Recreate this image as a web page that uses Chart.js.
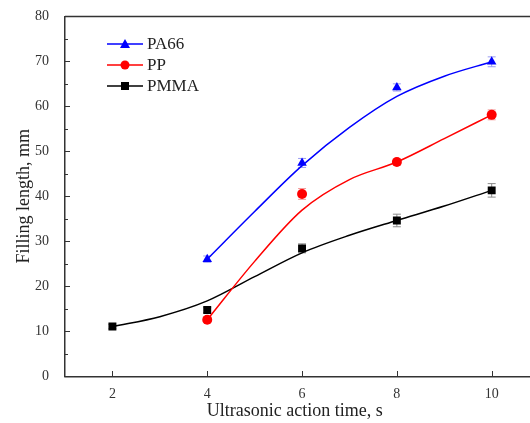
<!DOCTYPE html>
<html>
<head>
<meta charset="utf-8">
<script src="https://cdn.jsdelivr.net/npm/chart.js@4"></script>
<style>
html, body { margin: 0; padding: 0; background: #fff; overflow: hidden; }
</style>
</head>
<body>
<canvas id="myChart" width="530" height="423"></canvas>
<script>
// measured points (time, s -> filling length, mm) and error bars
const pa66Time = [4, 6, 8, 10];
const pa66Len = [26.0, 47.4, 64.2, 69.9];
const pa66Err = [0.7, 1.0, 0.8, 1.1];

const ppTime = [4, 6, 8, 10];
const ppLen = [12.5, 40.5, 47.6, 58.1];
const ppErr = [0.6, 1.2, 0.7, 1.1];

const pmmaTime = [2, 4, 6, 8, 10];
const pmmaLen = [11.0, 14.7, 28.4, 34.6, 41.3];
const pmmaErr = [0.5, 0.6, 1.0, 1.4, 1.5];

// fitted curves
const pa66FitTime = [4, 5, 6, 7, 8, 9, 10];
const pa66Fit = [26.0, 36.6, 46.8, 55.3, 62.2, 66.7, 69.9];
const ppFitTime = [4, 5, 6, 7, 8, 9, 10];
const ppFit = [12.5, 25.5, 36.9, 43.7, 47.6, 52.8, 58.1];
const pmmaFitTime = [2, 3, 4, 5, 6, 7, 8, 9, 10];
const pmmaFit = [11.0, 13.2, 16.7, 22.1, 27.4, 31.3, 34.6, 37.8, 41.3];

const xTicks = [2, 4, 6, 8, 10];
const yTicks = [0, 10, 20, 30, 40, 50, 60, 70, 80];

const series = [
    { label: 'PA66', color: '#0000ff', errColor: '#9a9cf2', shape: 'triangle', radius: 5.5, t: pa66Time, v: pa66Len, e: pa66Err, ft: pa66FitTime, fv: pa66Fit },
    { label: 'PP', color: '#ff0000', errColor: '#f29a9a', shape: 'circle', radius: 5, t: ppTime, v: ppLen, e: ppErr, ft: ppFitTime, fv: ppFit },
    { label: 'PMMA', color: '#000000', errColor: '#8a8a8a', shape: 'rect', radius: 5.6, t: pmmaTime, v: pmmaLen, e: pmmaErr, ft: pmmaFitTime, fv: pmmaFit }
];

const pts = (xs, ys) => xs.map((x, i) => ({ x: x, y: ys[i] }));

const datasets = [];
series.forEach((s) => {
    datasets.push({
        label: s.label + ' fit',
        data: pts(s.ft, s.fv),
        showLine: true,
        borderColor: s.color,
        borderWidth: 1.5,
        pointRadius: 0,
        cubicInterpolationMode: 'monotone',
        fill: false
    });
});
series.forEach((s) => {
    datasets.push({
        label: s.label,
        data: pts(s.t, s.v),
        showLine: false,
        pointStyle: s.shape,
        pointRadius: s.radius,
        backgroundColor: s.color,
        borderColor: s.color,
        borderWidth: 0
    });
});

const serif = "'Liberation Serif', 'Times New Roman', serif";

const extras = {
    id: 'extras',
    beforeDatasetsDraw(chart) {
        const ctx = chart.ctx;
        const xs = chart.scales.x, ys = chart.scales.y;
        ctx.save();
        ctx.lineWidth = 1;
        series.forEach((s) => {
            ctx.strokeStyle = s.errColor;
            s.t.forEach((t, i) => {
                const px = xs.getPixelForValue(t);
                const top = ys.getPixelForValue(s.v[i] + s.e[i]);
                const bot = ys.getPixelForValue(s.v[i] - s.e[i]);
                ctx.beginPath();
                ctx.moveTo(px, top); ctx.lineTo(px, bot);
                ctx.moveTo(px - 4, top); ctx.lineTo(px + 4, top);
                ctx.moveTo(px - 4, bot); ctx.lineTo(px + 4, bot);
                ctx.stroke();
            });
        });
        ctx.restore();
    },
    afterDraw(chart) {
        const ctx = chart.ctx;
        const area = chart.chartArea;
        const xs = chart.scales.x, ys = chart.scales.y;
        ctx.save();
        ctx.strokeStyle = '#333';
        ctx.lineWidth = 1.5;
        // top frame and bottom axis run off the right edge
        ctx.beginPath();
        ctx.moveTo(area.left, area.top);
        ctx.lineTo(chart.width, area.top);
        ctx.moveTo(area.left - 0.75, area.bottom + 0.75);
        ctx.lineTo(chart.width, area.bottom + 0.75);
        ctx.stroke();
        // inward ticks
        ctx.lineWidth = 1;
        for (let v = 0; v <= 80; v += 5) {
            const py = Math.round(ys.getPixelForValue(v)) + 0.5;
            const len = v % 10 === 0 ? 5 : 3;
            ctx.beginPath();
            ctx.moveTo(area.left, py);
            ctx.lineTo(area.left + len, py);
            ctx.stroke();
        }
        xTicks.forEach((v) => {
            const px = Math.round(xs.getPixelForValue(v)) + 0.5;
            ctx.beginPath();
            ctx.moveTo(px, area.bottom);
            ctx.lineTo(px, area.bottom - 5);
            ctx.stroke();
        });
        // legend
        ctx.font = '17px ' + serif;
        ctx.textBaseline = 'middle';
        series.forEach((s, i) => {
            const y = 44 + i * 21;
            ctx.strokeStyle = s.color;
            ctx.lineWidth = 1.5;
            ctx.beginPath();
            ctx.moveTo(107, y);
            ctx.lineTo(143, y);
            ctx.stroke();
            ctx.fillStyle = s.color;
            ctx.beginPath();
            if (s.shape === 'triangle') {
                ctx.moveTo(125, y - 5); ctx.lineTo(130, y + 4); ctx.lineTo(120, y + 4);
            } else if (s.shape === 'circle') {
                ctx.arc(125, y, 4.5, 0, Math.PI * 2);
            } else {
                ctx.rect(121, y - 4, 8, 8);
            }
            ctx.fill();
            ctx.fillStyle = '#222';
            ctx.fillText(s.label, 147, y + 1);
        });
        ctx.restore();
    }
};

new Chart(document.getElementById('myChart').getContext('2d'), {
    type: 'scatter',
    data: { datasets: datasets },
    options: {
        responsive: false,
        animation: false,
        devicePixelRatio: 1,
        layout: { padding: { top: 16, right: 0, left: 0, bottom: 0 } },
        plugins: { legend: { display: false }, tooltip: { enabled: false } },
        scales: {
            x: {
                type: 'linear',
                min: 1,
                max: 10.69,
                afterBuildTicks: (scale) => { scale.ticks = xTicks.map((v) => ({ value: v })); },
                afterFit: (scale) => { scale.height = 47; },
                grid: { display: false },
                border: { display: false },
                ticks: { color: '#333', font: { family: serif, size: 14 }, padding: 2, maxRotation: 0 },
                title: { display: true, text: 'Ultrasonic action time, s', color: '#222', font: { family: serif, size: 18 }, padding: { top: 0, bottom: 1 } }
            },
            y: {
                min: 0,
                max: 80,
                afterBuildTicks: (scale) => { scale.ticks = yTicks.map((v) => ({ value: v })); },
                afterFit: (scale) => { scale.width = 65; },
                grid: { display: false },
                border: { color: '#333', width: 1.5 },
                ticks: { color: '#333', font: { family: serif, size: 14 }, padding: 8 },
                title: { display: true, text: 'Filling length, mm', color: '#222', font: { family: serif, size: 18 }, padding: { top: 13, bottom: 0 } }
            }
        }
    },
    plugins: [extras]
});
</script>
</body>
</html>
